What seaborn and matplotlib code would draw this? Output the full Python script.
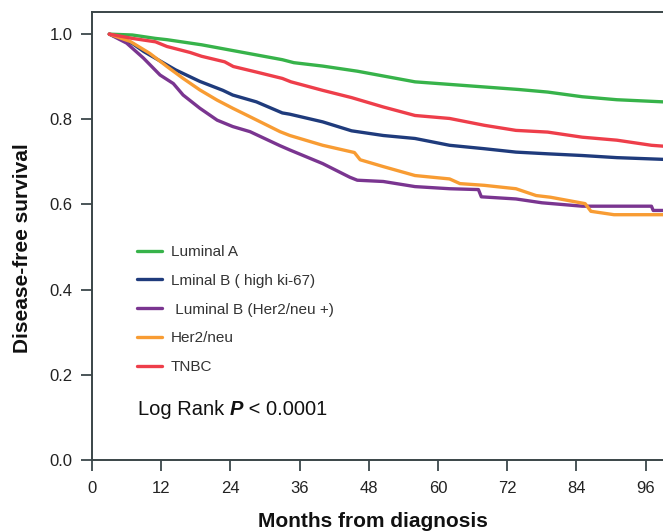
import pandas as pd
import numpy as np
import matplotlib
matplotlib.use("Agg")
import matplotlib.pyplot as plt
import seaborn as sns

# Kaplan-Meier style curves
groups = ["Luminal A", "Lminal B ( high ki-67)", " Luminal B (Her2/neu +)", "Her2/neu", "TNBC"]
colors = ["#37b34a", "#1f3b7c", "#7a3590", "#f89c33", "#ee3e4a"]

lum_a_months = [3, 7, 11, 13, 19, 23, 29, 33, 35, 40, 46, 52, 56, 62, 68, 74, 79, 85, 91, 99]
lum_a_surv = [1.0, 0.998, 0.99, 0.987, 0.975, 0.965, 0.95, 0.94, 0.933, 0.925, 0.913, 0.898,
              0.888, 0.882, 0.876, 0.870, 0.864, 0.853, 0.846, 0.841]

lum_b_months = [3, 7, 9, 14.5, 18.7, 22.7, 24.4, 28.5, 33, 34.3, 40, 45, 50.5, 56, 62, 68,
                73.5, 79, 85, 91, 99]
lum_b_surv = [1.0, 0.978, 0.959, 0.916, 0.889, 0.868, 0.857, 0.841, 0.815, 0.812, 0.794,
              0.773, 0.762, 0.755, 0.739, 0.731, 0.723, 0.719, 0.715, 0.710, 0.706]

lum_her2_months = [3, 6, 8.9, 11.8, 14.1, 15.8, 18.7, 21.7, 24.4, 27.4, 32.6, 34.3, 40, 44.7,
                   46, 50.5, 56, 62, 67, 67.5, 73.5, 78, 85, 97, 97.3, 99]
lum_her2_surv = [1.0, 0.979, 0.944, 0.904, 0.884, 0.857, 0.826, 0.798, 0.783, 0.771, 0.738,
                 0.728, 0.696, 0.664, 0.657, 0.654, 0.642, 0.637, 0.635, 0.618, 0.613, 0.604,
                 0.596, 0.596, 0.586, 0.586]

her2_months = [3, 6.6, 10, 13, 15.8, 18.7, 21.7, 24.4, 27.4, 32.6, 34.3, 40, 45.5, 46.5, 50.5,
               56, 62, 63.8, 68, 73.5, 77, 79.5, 85.5, 86.5, 90.5, 99]
her2_surv = [1.0, 0.983, 0.955, 0.924, 0.896, 0.869, 0.845, 0.826, 0.806, 0.771, 0.762, 0.739,
             0.722, 0.705, 0.689, 0.668, 0.660, 0.649, 0.645, 0.637, 0.621, 0.617, 0.602, 0.584,
             0.576, 0.576]

tnbc_months = [3, 7, 11, 13, 17, 19, 23, 24.5, 28.5, 33, 34.5, 40, 45, 50.5, 56, 62, 68, 73.5,
               79, 85, 91, 97, 99]
tnbc_surv = [1.0, 0.99, 0.982, 0.971, 0.957, 0.948, 0.935, 0.924, 0.911, 0.896, 0.888, 0.868,
             0.851, 0.829, 0.809, 0.802, 0.786, 0.774, 0.770, 0.758, 0.751, 0.739, 0.737]

x_ticks = [0, 12, 24, 36, 48, 60, 72, 84, 96]
y_ticks = [0.0, 0.2, 0.4, 0.6, 0.8, 1.0]

series = [(lum_a_months, lum_a_surv), (lum_b_months, lum_b_surv),
          (lum_her2_months, lum_her2_surv), (her2_months, her2_surv),
          (tnbc_months, tnbc_surv)]
frames = []
for name, (m, s) in zip(groups, series):
    frames.append(pd.DataFrame({"Months": m, "Survival": s, "Group": name}))
df = pd.concat(frames, ignore_index=True)

sns.set_style("ticks")
plt.rcParams["font.family"] = ["Liberation Sans", "DejaVu Sans"]

fig = plt.figure(figsize=(6.63, 5.31), dpi=100)
ax = fig.add_axes([92 / 663, 1 - 460 / 531, 1 - 92 / 663, (460 - 12) / 531])

sns.lineplot(data=df, x="Months", y="Survival", hue="Group", hue_order=groups,
             palette=dict(zip(groups, colors)), estimator=None, sort=False,
             linewidth=2.4, ax=ax)

handles, labels = ax.get_legend_handles_labels()
ax.legend(handles, labels, loc="upper left", bbox_to_anchor=(137 / 663, 1 - 245 / 531),
          bbox_transform=fig.transFigure, frameon=False, fontsize=11, borderpad=0,
          borderaxespad=0, handlelength=1.65, handletextpad=0.55, labelspacing=0.97,
          labelcolor="#333333")
for h in ax.get_legend().get_lines():
    h.set_linewidth(2.4)

ax.set_xlim(0, 99)
ax.set_ylim(0, 1.052)
ax.set_xticks(x_ticks)
ax.set_yticks(y_ticks)
ax.set_yticklabels([f"{v:.1f}" for v in y_ticks])
ax.tick_params(axis="both", direction="out", length=8, width=1.4, color="#4a5558",
               labelsize=12, labelcolor="#222222")
ax.tick_params(axis="x", pad=7)
ax.tick_params(axis="y", pad=6)
for side in ["left", "bottom", "top"]:
    ax.spines[side].set_color("#3a4548")
    ax.spines[side].set_linewidth(1.4)
ax.spines["right"].set_visible(False)

ax.set_xlabel("Months from diagnosis", fontsize=15, fontweight="bold", color="#111111")
ax.set_ylabel("Disease-free survival", fontsize=15, fontweight="bold", color="#111111")
ax.xaxis.set_label_coords((373 - 92) / 571, (460 - 512) / 448)
ax.yaxis.set_label_coords((32 - 92) / 571, (460 - 248) / 448)

t1 = fig.text(138 / 663, 1 - 419 / 531, "Log Rank ", fontsize=14.5, color="#111111",
              va="bottom")
t2 = ax.annotate("P", xy=(1, 0), xycoords=t1, fontsize=14.5, fontweight="bold",
                 fontstyle="italic", color="#111111", va="bottom")
ax.annotate(" < 0.0001", xy=(1, 0), xycoords=t2, fontsize=14.5, color="#111111",
            va="bottom")

fig.savefig("out.png", dpi=100)
